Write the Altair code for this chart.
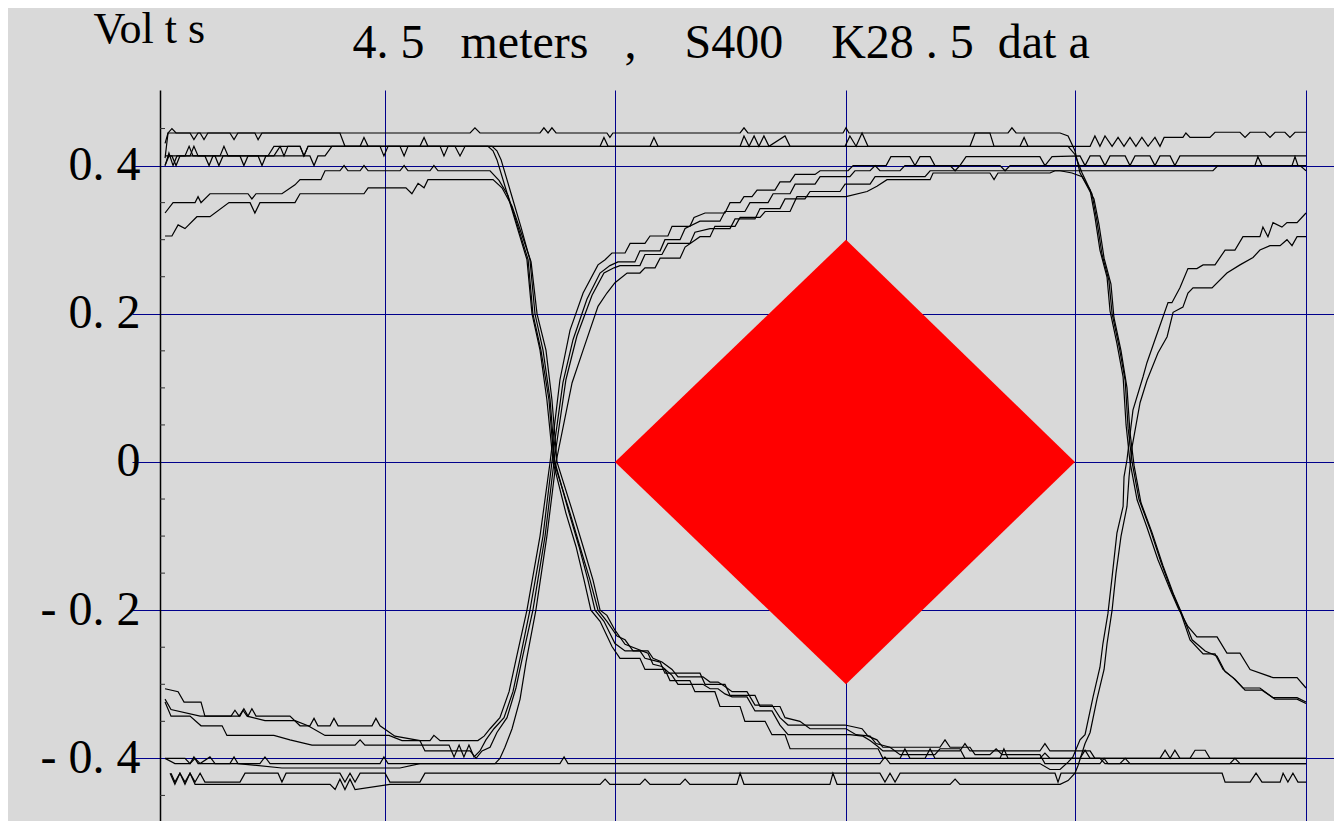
import altair as alt
import pandas as pd

# ---- axis / annotation values ----
# vertical grid lines in the traces' time units (div)
X_GRID = [0.982, 1.985, 2.993, 3.992, 5.0]
Y_TICKS = [-0.4, -0.2, 0.0, 0.2, 0.4]
Y_TICK_LABELS = ["- 0. 4", "- 0. 2", "0", "0. 2", "0. 4"]
Y_MINOR = [-0.45, -0.35, -0.3, -0.25, -0.15, -0.1, -0.05, 0.05, 0.1, 0.15, 0.25, 0.3, 0.35, 0.45]
Y_TITLE = "Vol t s"
MAIN_TITLE = "4. 5\u00a0\u00a0\u00a0meters\u00a0\u00a0\u00a0,\u00a0\u00a0\u00a0\u00a0S400\u00a0\u00a0\u00a0\u00a0K28 . 5\u00a0\u00a0dat a"

# ---- eye mask (diamond) ----
MASK_T = [1.985, 2.993, 3.992]
MASK_TOP = [0.0, 0.3, 0.0]
MASK_BOTTOM = [0.0, -0.3, 0.0]

# ---- captured waveform traces: [time (div), volts] ----
TRACE_01 = [[0.022,0.430],[0.035,0.444],[0.052,0.450],[0.070,0.444],[0.175,0.444],[0.192,0.435],[0.209,0.444],[0.414,0.444],[0.428,0.435],[0.445,0.444],[1.353,0.444],[1.374,0.451],[1.396,0.444],[1.658,0.444],[1.675,0.451],[1.693,0.444],[1.710,0.451],[1.728,0.444],[1.950,0.444],[1.963,0.438],[1.976,0.444],[2.531,0.444],[2.548,0.451],[2.565,0.444],[2.980,0.444],[2.993,0.451],[3.006,0.444],[3.700,0.444],[3.717,0.451],[3.735,0.444],[3.927,0.444],[3.962,0.440],[3.992,0.420],[4.014,0.390],[4.058,0.367],[4.079,0.331],[4.101,0.286],[4.132,0.249],[4.145,0.204],[4.175,0.160],[4.202,0.115],[4.215,0.050],[4.232,0.000],[4.263,-0.051],[4.306,-0.088],[4.354,-0.132],[4.407,-0.172],[4.442,-0.197],[4.485,-0.222],[4.524,-0.236],[4.612,-0.236],[4.655,-0.258],[4.712,-0.258],[4.756,-0.280],[4.856,-0.291],[4.961,-0.291],[5.000,-0.305]]

TRACE_02 = [[0.022,0.400],[0.039,0.417],[0.057,0.400],[0.074,0.413],[0.131,0.413],[0.148,0.426],[0.166,0.413],[0.196,0.413],[0.214,0.400],[0.231,0.413],[0.349,0.413],[0.366,0.400],[0.384,0.413],[0.471,0.413],[0.497,0.426],[0.524,0.426],[0.541,0.413],[0.558,0.426],[0.611,0.426],[0.628,0.413],[0.646,0.426],[0.960,0.426],[0.977,0.413],[0.995,0.426],[1.047,0.426],[1.065,0.413],[1.082,0.426],[1.222,0.426],[1.239,0.413],[1.257,0.426],[2.138,0.426],[2.155,0.438],[2.173,0.426],[3.752,0.426],[3.770,0.438],[3.787,0.426],[4.058,0.426],[4.079,0.440],[4.101,0.426],[4.123,0.440],[4.154,0.426],[4.180,0.438],[4.206,0.426],[4.232,0.438],[4.258,0.426],[4.284,0.438],[4.311,0.426],[4.341,0.438],[4.363,0.426],[4.381,0.438],[4.463,0.438],[4.476,0.444],[4.494,0.438],[4.581,0.438],[4.603,0.445],[4.712,0.445],[4.734,0.438],[4.756,0.445],[4.821,0.445],[4.843,0.438],[4.865,0.445],[4.908,0.445],[4.930,0.438],[4.952,0.445],[5.000,0.445]]

TRACE_03 = [[0.022,0.413],[0.052,0.413],[0.070,0.400],[0.087,0.413],[0.240,0.413],[0.257,0.400],[0.275,0.413],[0.654,0.413],[0.672,0.400],[0.689,0.413],[0.720,0.413],[0.750,0.426],[0.873,0.426],[0.890,0.438],[0.908,0.426],[1.134,0.426],[1.152,0.438],[1.169,0.426],[1.431,0.426],[1.453,0.420],[1.470,0.408],[1.514,0.363],[1.558,0.317],[1.601,0.273],[1.623,0.200],[1.658,0.151],[1.688,0.084],[1.715,0.000],[1.771,-0.069],[1.815,-0.114],[1.850,-0.159],[1.880,-0.200],[1.920,-0.215],[1.972,-0.249],[2.007,-0.265],[2.094,-0.265],[2.116,-0.280],[2.203,-0.280],[2.225,-0.295],[2.312,-0.295],[2.334,-0.310],[2.421,-0.310],[2.443,-0.330],[2.531,-0.330],[2.552,-0.350],[2.640,-0.350],[2.670,-0.368],[2.727,-0.368],[2.749,-0.387],[3.133,-0.387],[3.154,-0.400],[3.229,-0.400],[3.250,-0.387],[3.272,-0.400],[3.338,-0.400],[3.360,-0.387],[3.381,-0.400],[3.665,-0.400],[3.682,-0.387],[3.700,-0.400],[4.014,-0.400],[4.036,-0.389],[4.058,-0.400],[4.363,-0.400],[4.385,-0.389],[4.407,-0.400],[4.428,-0.389],[4.450,-0.400],[4.494,-0.400],[4.516,-0.389],[4.560,-0.389],[4.581,-0.400],[5.000,-0.400]]

TRACE_04 = [[0.022,0.336],[0.057,0.350],[0.153,0.350],[0.166,0.358],[0.179,0.350],[0.218,0.362],[0.384,0.362],[0.401,0.355],[0.419,0.362],[0.532,0.362],[0.589,0.374],[0.611,0.381],[0.702,0.381],[0.720,0.393],[0.785,0.393],[0.803,0.400],[0.820,0.393],[0.873,0.393],[0.890,0.400],[0.908,0.393],[1.047,0.393],[1.065,0.400],[1.082,0.393],[1.178,0.393],[1.195,0.400],[1.213,0.393],[1.440,0.393],[1.479,0.380],[1.518,0.360],[1.562,0.317],[1.606,0.273],[1.627,0.200],[1.662,0.151],[1.697,0.084],[1.719,0.000],[1.789,-0.069],[1.832,-0.114],[1.876,-0.159],[1.911,-0.200],[1.950,-0.215],[1.994,-0.235],[2.029,-0.240],[2.064,-0.255],[2.129,-0.255],[2.151,-0.265],[2.190,-0.270],[2.234,-0.280],[2.260,-0.290],[2.369,-0.290],[2.400,-0.297],[2.435,-0.297],[2.465,-0.303],[2.496,-0.310],[2.561,-0.310],[2.596,-0.328],[2.670,-0.328],[2.705,-0.345],[2.740,-0.355],[2.989,-0.355],[3.063,-0.360],[3.089,-0.370],[3.128,-0.375],[3.154,-0.385],[3.403,-0.385],[3.425,-0.375],[3.447,-0.385],[3.534,-0.385],[3.556,-0.395],[3.621,-0.395],[3.648,-0.387],[3.674,-0.395],[3.839,-0.395],[3.861,-0.407],[4.101,-0.407],[4.119,-0.400],[4.136,-0.407],[5.000,-0.407]]

TRACE_05 = [[0.022,0.305],[0.052,0.305],[0.079,0.320],[0.109,0.315],[0.161,0.331],[0.218,0.331],[0.301,0.350],[0.393,0.350],[0.414,0.336],[0.436,0.350],[0.589,0.350],[0.611,0.362],[0.890,0.362],[0.908,0.370],[1.073,0.370],[1.099,0.362],[1.126,0.376],[1.152,0.370],[1.169,0.381],[1.453,0.381],[1.492,0.370],[1.536,0.345],[1.575,0.310],[1.619,0.270],[1.645,0.200],[1.684,0.151],[1.710,0.084],[1.732,0.000],[1.802,-0.069],[1.846,-0.114],[1.889,-0.159],[1.920,-0.200],[1.950,-0.207],[1.985,-0.227],[2.029,-0.246],[2.129,-0.258],[2.151,-0.273],[2.190,-0.276],[2.234,-0.288],[2.260,-0.300],[2.369,-0.300],[2.400,-0.306],[2.435,-0.306],[2.465,-0.313],[2.496,-0.317],[2.561,-0.317],[2.596,-0.336],[2.670,-0.336],[2.705,-0.355],[2.740,-0.368],[3.010,-0.368],[3.067,-0.370],[3.098,-0.376],[3.128,-0.383],[3.154,-0.390],[3.490,-0.390],[3.512,-0.380],[3.534,-0.390],[3.839,-0.390],[3.861,-0.380],[3.883,-0.390],[4.058,-0.390],[4.079,-0.400],[5.000,-0.400]]

TRACE_06 = [[0.022,0.400],[0.039,0.413],[0.109,0.413],[0.127,0.426],[0.144,0.413],[0.262,0.413],[0.279,0.426],[0.297,0.413],[0.428,0.413],[0.445,0.400],[0.462,0.413],[0.497,0.413],[0.524,0.426],[0.611,0.426],[0.628,0.413],[0.646,0.426],[1.287,0.426],[1.309,0.413],[1.331,0.426],[1.449,0.426],[1.470,0.420],[1.488,0.408],[1.531,0.363],[1.575,0.317],[1.614,0.273],[1.636,0.200],[1.671,0.151],[1.702,0.084],[1.723,0.000],[1.785,-0.069],[1.828,-0.114],[1.867,-0.159],[1.898,-0.200],[1.937,-0.215],[1.985,-0.245],[2.029,-0.255],[2.094,-0.255],[2.116,-0.265],[2.182,-0.270],[2.203,-0.285],[2.356,-0.285],[2.378,-0.300],[2.465,-0.300],[2.487,-0.315],[2.596,-0.315],[2.618,-0.330],[2.705,-0.330],[2.727,-0.345],[2.792,-0.350],[2.836,-0.360],[2.993,-0.360],[3.037,-0.368],[3.098,-0.370],[3.124,-0.380],[3.185,-0.385],[3.229,-0.395],[3.381,-0.395],[3.403,-0.387],[3.490,-0.387],[3.512,-0.400],[3.839,-0.400],[3.861,-0.393],[3.883,-0.400],[4.101,-0.400],[4.123,-0.407],[4.188,-0.407],[4.211,-0.400],[4.232,-0.407],[4.668,-0.407],[4.690,-0.400],[4.712,-0.407],[5.000,-0.407]]

TRACE_07 = [[0.022,-0.306],[0.079,-0.310],[0.105,-0.324],[0.179,-0.324],[0.196,-0.343],[0.310,-0.343],[0.327,-0.335],[0.345,-0.343],[0.362,-0.335],[0.380,-0.343],[0.458,-0.349],[0.589,-0.349],[0.646,-0.356],[0.720,-0.369],[0.999,-0.369],[1.056,-0.376],[1.178,-0.376],[1.195,-0.369],[1.222,-0.376],[1.387,-0.376],[1.414,-0.370],[1.440,-0.360],[1.483,-0.345],[1.523,-0.310],[1.558,-0.260],[1.601,-0.200],[1.658,-0.100],[1.702,0.000],[1.745,0.111],[1.789,0.178],[1.846,0.228],[1.911,0.266],[1.942,0.273],[1.972,0.282],[2.029,0.282],[2.051,0.295],[2.116,0.295],[2.138,0.305],[2.216,0.305],[2.234,0.318],[2.312,0.318],[2.330,0.330],[2.378,0.336],[2.465,0.336],[2.487,0.350],[2.531,0.350],[2.548,0.358],[2.583,0.358],[2.605,0.367],[2.683,0.367],[2.705,0.378],[2.749,0.378],[2.771,0.388],[2.858,0.388],[2.880,0.393],[3.002,0.393],[3.024,0.400],[3.168,0.400],[3.189,0.412],[3.272,0.412],[3.294,0.400],[3.316,0.412],[3.360,0.412],[3.381,0.400],[3.490,0.400],[3.517,0.412],[3.839,0.412],[3.861,0.400],[3.892,0.412],[4.014,0.413],[4.036,0.400],[4.058,0.413],[4.101,0.413],[4.123,0.400],[4.145,0.413],[4.211,0.413],[4.232,0.400],[4.254,0.413],[4.319,0.413],[4.341,0.400],[4.363,0.413],[4.407,0.413],[4.428,0.400],[4.450,0.413],[5.000,0.413]]

TRACE_08 = [[0.022,-0.324],[0.048,-0.343],[0.131,-0.343],[0.179,-0.356],[0.271,-0.356],[0.292,-0.369],[0.497,-0.369],[0.567,-0.375],[0.663,-0.382],[0.851,-0.382],[0.873,-0.375],[0.894,-0.382],[1.261,-0.382],[1.283,-0.398],[1.305,-0.382],[1.326,-0.398],[1.348,-0.382],[1.370,-0.398],[1.396,-0.390],[1.422,-0.375],[1.457,-0.360],[1.501,-0.345],[1.540,-0.310],[1.571,-0.265],[1.614,-0.200],[1.671,-0.100],[1.710,0.000],[1.758,0.107],[1.802,0.165],[1.863,0.220],[1.920,0.255],[1.963,0.265],[1.998,0.270],[2.072,0.270],[2.094,0.285],[2.182,0.285],[2.203,0.300],[2.269,0.300],[2.291,0.315],[2.356,0.325],[2.443,0.325],[2.465,0.338],[2.552,0.338],[2.574,0.350],[2.653,0.350],[2.675,0.362],[2.749,0.362],[2.771,0.375],[2.858,0.375],[2.880,0.385],[3.010,0.385],[3.032,0.393],[3.098,0.393],[3.120,0.400],[3.141,0.393],[3.229,0.393],[3.250,0.400],[3.447,0.400],[3.469,0.393],[3.490,0.400],[3.665,0.400],[3.687,0.393],[3.709,0.400],[4.777,0.400],[4.790,0.412],[4.808,0.400],[4.939,0.400],[4.952,0.412],[4.965,0.400],[5.000,0.400]]

TRACE_09 = [[0.022,-0.320],[0.048,-0.334],[0.175,-0.343],[0.349,-0.343],[0.366,-0.333],[0.384,-0.343],[0.401,-0.333],[0.419,-0.343],[0.567,-0.343],[0.611,-0.356],[0.654,-0.356],[0.672,-0.346],[0.689,-0.356],[0.742,-0.356],[0.759,-0.346],[0.777,-0.356],[0.925,-0.356],[0.942,-0.346],[0.960,-0.356],[1.025,-0.370],[1.134,-0.376],[1.156,-0.390],[1.353,-0.390],[1.379,-0.400],[1.405,-0.390],[1.440,-0.385],[1.470,-0.365],[1.514,-0.345],[1.553,-0.305],[1.584,-0.260],[1.627,-0.200],[1.680,-0.100],[1.719,0.000],[1.771,0.111],[1.819,0.170],[1.885,0.225],[1.937,0.255],[1.981,0.262],[2.007,0.265],[2.094,0.265],[2.116,0.280],[2.190,0.280],[2.216,0.295],[2.312,0.295],[2.334,0.310],[2.400,0.315],[2.487,0.315],[2.509,0.328],[2.596,0.328],[2.618,0.342],[2.705,0.342],[2.727,0.355],[2.814,0.355],[2.836,0.365],[2.967,0.365],[2.989,0.375],[3.098,0.375],[3.120,0.385],[3.338,0.385],[3.360,0.393],[3.927,0.393],[3.979,0.390],[4.023,0.385],[4.075,0.355],[4.097,0.320],[4.119,0.275],[4.149,0.240],[4.162,0.195],[4.193,0.150],[4.219,0.100],[4.232,0.040],[4.250,-0.005],[4.280,-0.055],[4.328,-0.095],[4.376,-0.140],[4.424,-0.180],[4.459,-0.205],[4.503,-0.240],[4.560,-0.255],[4.612,-0.262],[4.647,-0.283],[4.690,-0.293],[4.734,-0.308],[4.808,-0.308],[4.865,-0.320],[4.961,-0.320],[5.000,-0.326]]

TRACE_10 = [[0.022,-0.400],[0.065,-0.407],[0.131,-0.407],[0.148,-0.398],[0.166,-0.407],[0.305,-0.407],[0.323,-0.398],[0.340,-0.407],[0.532,-0.413],[1.047,-0.413],[1.134,-0.407],[1.462,-0.407],[1.483,-0.400],[1.505,-0.385],[1.536,-0.360],[1.571,-0.320],[1.597,-0.270],[1.640,-0.200],[1.688,-0.100],[1.728,0.000],[1.798,0.107],[1.846,0.151],[1.911,0.210],[1.950,0.228],[1.985,0.242],[2.038,0.255],[2.094,0.255],[2.116,0.262],[2.160,0.262],[2.182,0.275],[2.269,0.275],[2.291,0.290],[2.356,0.304],[2.400,0.304],[2.421,0.318],[2.509,0.318],[2.531,0.330],[2.618,0.330],[2.640,0.338],[2.749,0.338],[2.779,0.358],[2.993,0.358],[3.085,0.365],[3.128,0.372],[3.172,0.381],[3.360,0.381],[3.373,0.390],[3.621,0.390],[3.639,0.381],[3.656,0.390],[3.883,0.390],[3.905,0.393],[4.594,0.393],[4.616,0.400],[4.974,0.400],[5.000,0.393]]

TRACE_11 = [[0.022,0.410],[0.035,0.444],[0.131,0.444],[0.148,0.435],[0.166,0.444],[0.305,0.444],[0.323,0.435],[0.340,0.444],[0.785,0.444],[0.807,0.426],[1.920,0.426],[1.937,0.438],[1.955,0.426],[2.531,0.426],[2.548,0.440],[2.570,0.426],[2.592,0.440],[2.613,0.426],[2.635,0.440],[2.657,0.426],[2.727,0.440],[2.749,0.426],[2.989,0.426],[3.010,0.440],[3.037,0.426],[3.063,0.444],[3.089,0.426],[3.534,0.426],[3.556,0.444],[3.621,0.444],[3.639,0.426],[3.962,0.426],[3.992,0.415],[4.023,0.390],[4.066,0.362],[4.088,0.325],[4.110,0.280],[4.140,0.245],[4.154,0.200],[4.185,0.155],[4.211,0.110],[4.224,0.045],[4.241,0.000],[4.271,-0.050],[4.319,-0.090],[4.367,-0.135],[4.415,-0.175],[4.450,-0.200],[4.494,-0.240],[4.551,-0.259],[4.603,-0.259],[4.638,-0.280],[4.681,-0.291],[4.725,-0.305],[4.799,-0.305],[4.856,-0.318],[4.961,-0.318],[5.000,-0.324]]

TRACE_12 = [[0.022,-0.400],[0.109,-0.400],[0.131,-0.407],[0.153,-0.400],[0.175,-0.407],[0.218,-0.398],[0.240,-0.407],[0.436,-0.407],[0.458,-0.398],[0.480,-0.407],[0.960,-0.407],[0.977,-0.398],[0.995,-0.407],[1.745,-0.407],[1.763,-0.398],[1.780,-0.407],[3.141,-0.407],[3.163,-0.398],[3.185,-0.407],[3.839,-0.407],[3.883,-0.415],[3.927,-0.415],[3.962,-0.405],[3.983,-0.398],[4.014,-0.375],[4.036,-0.368],[4.071,-0.317],[4.101,-0.277],[4.114,-0.245],[4.136,-0.204],[4.154,-0.155],[4.175,-0.096],[4.202,-0.060],[4.206,-0.020],[4.219,0.003],[4.245,0.070],[4.289,0.115],[4.306,0.134],[4.341,0.165],[4.398,0.215],[4.415,0.215],[4.450,0.235],[4.485,0.261],[4.524,0.261],[4.551,0.266],[4.603,0.266],[4.647,0.286],[4.690,0.286],[4.725,0.304],[4.799,0.304],[4.812,0.317],[4.834,0.304],[4.856,0.323],[4.895,0.317],[4.917,0.323],[4.961,0.323],[5.000,0.336]]

TRACE_13 = [[0.048,-0.420],[0.065,-0.432],[0.087,-0.420],[0.109,-0.432],[0.131,-0.420],[0.153,-0.432],[0.175,-0.420],[0.196,-0.432],[0.349,-0.432],[0.371,-0.420],[0.515,-0.420],[0.532,-0.432],[0.550,-0.420],[0.785,-0.420],[0.807,-0.432],[0.829,-0.420],[0.851,-0.432],[0.873,-0.420],[0.982,-0.420],[1.003,-0.432],[1.134,-0.432],[1.156,-0.420],[3.141,-0.420],[3.163,-0.432],[3.185,-0.420],[3.207,-0.432],[3.229,-0.420],[3.905,-0.420],[3.918,-0.432],[3.931,-0.420],[4.634,-0.420],[4.647,-0.432],[4.756,-0.432],[4.782,-0.420],[4.808,-0.432],[4.887,-0.432],[4.900,-0.420],[4.921,-0.432],[4.943,-0.420],[4.965,-0.432],[5.000,-0.432]]

TRACE_14 = [[0.044,-0.420],[0.065,-0.435],[0.087,-0.420],[0.109,-0.435],[0.131,-0.420],[0.153,-0.435],[0.742,-0.435],[0.764,-0.442],[0.785,-0.428],[0.807,-0.442],[0.829,-0.428],[0.851,-0.442],[1.003,-0.435],[1.920,-0.435],[1.942,-0.428],[1.963,-0.435],[2.094,-0.435],[2.116,-0.428],[2.138,-0.435],[2.269,-0.435],[2.291,-0.428],[2.312,-0.435],[2.517,-0.435],[2.531,-0.420],[2.548,-0.435],[2.923,-0.435],[2.936,-0.420],[2.954,-0.435],[3.447,-0.435],[3.469,-0.428],[3.490,-0.435],[3.927,-0.435],[3.962,-0.430],[3.992,-0.420],[4.005,-0.410],[4.036,-0.380],[4.058,-0.365],[4.088,-0.320],[4.119,-0.280],[4.132,-0.245],[4.154,-0.200],[4.171,-0.150],[4.193,-0.100],[4.219,-0.060],[4.228,-0.020],[4.241,0.020],[4.276,0.080],[4.306,0.110],[4.354,0.147],[4.394,0.169],[4.420,0.202],[4.463,0.209],[4.485,0.228],[4.507,0.235],[4.590,0.235],[4.655,0.255],[4.712,0.266],[4.769,0.276],[4.799,0.286],[4.843,0.292],[4.887,0.292],[4.917,0.300],[4.939,0.292],[4.961,0.304],[5.000,0.304]]

TRACES = [TRACE_01, TRACE_02, TRACE_03, TRACE_04, TRACE_05, TRACE_06, TRACE_07,
          TRACE_08, TRACE_09, TRACE_10, TRACE_11, TRACE_12, TRACE_13, TRACE_14]

# ---- build tables ----
rows = []
for i, tr in enumerate(TRACES):
    for j, (t, v) in enumerate(tr):
        rows.append({"trace": i, "k": j, "t": t, "v": v})
df = pd.DataFrame(rows)
mask_df = pd.DataFrame({"t": MASK_T, "v": MASK_TOP, "v2": MASK_BOTTOM})
minor_df = pd.DataFrame({"v": Y_MINOR})

FONT = "Liberation Serif"
NAVY = "#00008b"
BG = "#d9d9d9"

label_expr = " : ".join(
    f"abs(datum.value - ({val})) < 0.01 ? '{lab}'" for val, lab in zip(Y_TICKS, Y_TICK_LABELS)
) + " : ''"

x_scale = alt.Scale(domain=[0, 1174 / 229.2], nice=False, zero=False)
y_scale = alt.Scale(domain=[0.502 - 731 / 741, 0.502], nice=False, zero=False)

x_axis = alt.Axis(
    orient="top", values=X_GRID, grid=True, gridColor=NAVY, gridWidth=1, gridOpacity=1,
    domain=False, ticks=False, labels=False,
    title=MAIN_TITLE, titleFont=FONT, titleFontSize=48, titleFontWeight="normal",
    titleColor="black", titleX=192, titleY=-33, titleAlign="left",
    titleBaseline="alphabetic", titleAnchor="start",
)
y_axis = alt.Axis(
    values=Y_TICKS, grid=True, gridColor=NAVY, gridWidth=1, gridOpacity=1,
    domain=True, domainColor="black", domainWidth=1.5,
    ticks=True, tickColor=NAVY, tickSize=28, tickWidth=1,
    labelExpr=label_expr, labelFont=FONT, labelFontSize=48, labelColor="black",
    labelPadding=-8, labelFlush=False, labelOverlap=False, labelBound=False,
    title=Y_TITLE, titleFont=FONT, titleFontSize=44, titleFontWeight="normal",
    titleColor="black", titleAngle=0, titleX=-67, titleY=-48, titleAlign="left",
    titleBaseline="alphabetic",
)

traces = alt.Chart(df).mark_line(color="black", strokeWidth=1.2, clip=True).encode(
    x=alt.X("t:Q", scale=x_scale, axis=x_axis),
    y=alt.Y("v:Q", scale=y_scale, axis=y_axis),
    detail="trace:N",
    order="k:Q",
)

mask = alt.Chart(mask_df).mark_area(color="#ff0000", opacity=1).encode(
    x=alt.X("t:Q", scale=x_scale),
    y=alt.Y("v:Q", scale=y_scale),
    y2="v2:Q",
)

minor = alt.Chart(minor_df).mark_rule(color="#333333", strokeWidth=1).encode(
    y=alt.Y("v:Q", scale=y_scale),
    x=alt.value(0),
    x2=alt.value(5),
)

chart = alt.layer(traces, mask, minor).properties(
    width=1174,
    height=731,
    background=BG,
    autosize=alt.AutoSizeParams(type="none"),
    padding={"left": 152, "top": 82, "right": 0, "bottom": 0},
).configure_view(stroke=None)

chart.save("out.html", embed_options={"renderer": "svg", "actions": False})
